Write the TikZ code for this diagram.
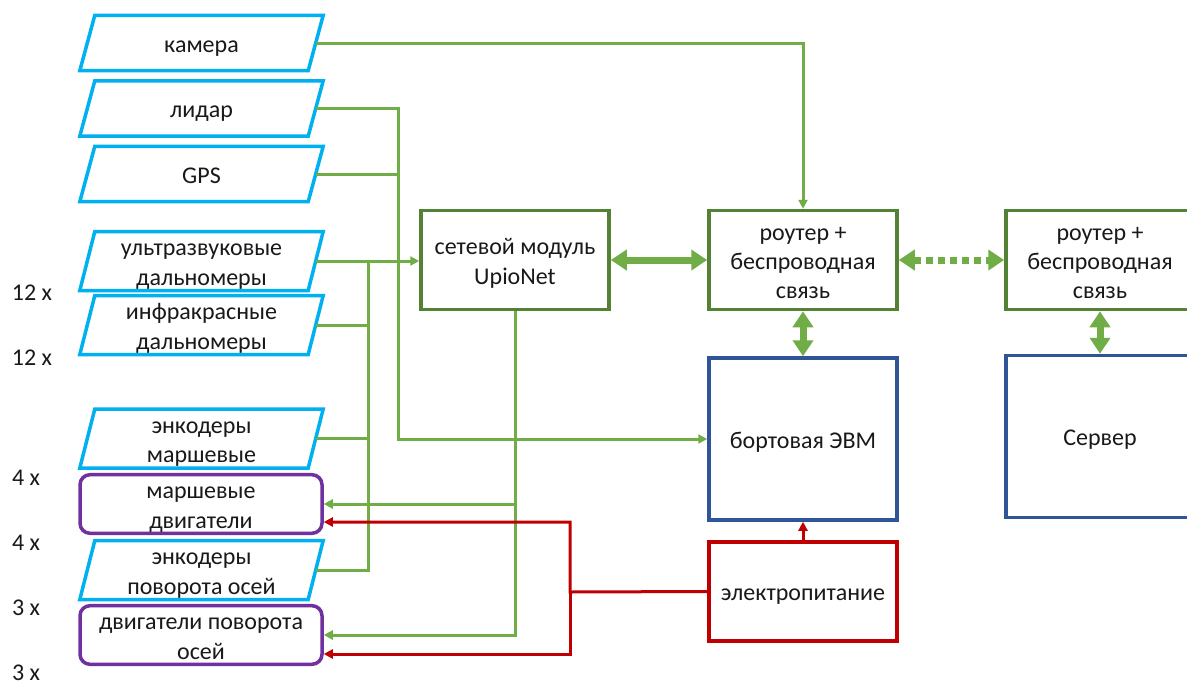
\documentclass[tikz,border=0pt]{standalone}
\usepackage{fontspec}
\setmainfont{Carlito}
\usetikzlibrary{arrows.meta,calc}
\definecolor{lgreen}{HTML}{70AD47}
\definecolor{dgreen}{HTML}{548235}
\definecolor{cyanb}{HTML}{00B0F0}
\definecolor{purp}{HTML}{7030A0}
\definecolor{dblue}{HTML}{2F5597}
\definecolor{dred}{HTML}{C00000}
\newcommand\mytx[1]{\raisebox{-3.5pt}[\height][\depth]{\begin{tabular}{@{}c@{}}#1\end{tabular}}}
\begin{document}
\begin{tikzpicture}[x=1pt,y=-1pt,
  txt/.style={font=\fontsize{24}{29.3}\selectfont, align=center, text=black!90},
  inbox/.style={txt, minimum width=228pt, minimum height=55pt, inner sep=0pt},
  pg/.style={draw=cyanb, line width=3.5pt, line join=miter},
  mot/.style={txt, draw=purp, line width=3.5pt, rounded corners=10pt, minimum width=242pt, minimum height=55pt, inner sep=0pt},
  gbox/.style={txt, draw=dgreen, line width=3.5pt, minimum width=188pt, minimum height=99pt, inner sep=0pt},
  bbox/.style={txt, draw=dblue, line width=3.5pt, minimum width=188pt, minimum height=162pt, inner sep=0pt},
  rbox/.style={txt, draw=dred, line width=3.5pt, minimum width=188pt, minimum height=99pt, inner sep=0pt},
  glp/.style={draw=lgreen, line width=3pt},
  gl/.style={glp, -{Triangle[length=9pt,width=9pt]}},
  rl/.style={draw=dred, line width=3pt, -{Triangle[length=9pt,width=9pt]}},
  thickarr/.style={draw=lgreen, line width=7pt, {Triangle[length=16pt,width=20pt]}-{Triangle[length=16pt,width=20pt]}},
  cnt/.style={txt}
]
\useasboundingbox[fill=white] (0,0) rectangle (1187,681);

% left column
\node[inbox] (cam) at (201.5,43) {\mytx{камера}};
\node[inbox] (lid) at (201.5,108.5) {\mytx{лидар}};
\node[inbox] (gps) at (201.5,174) {\mytx{GPS}};
\node[inbox] (uls) at (201.5,261) {\mytx{ультразвуковые\\дальномеры}};
\node[inbox] (ir) at (201.5,325) {\mytx{инфракрасные\\дальномеры}};
\node[inbox] (encm) at (201.5,438.5) {\mytx{энкодеры\\маршевые}};
\node[mot] (motm) at (201,504) {\mytx{маршевые\\двигатели}};
\node[inbox] (encr) at (201.5,570) {\mytx{энкодеры\\поворота осей}};
\node[mot] (motr) at (201,635) {\mytx{двигатели поворота\\осей}};
\foreach \n in {cam,lid,gps,uls,ir,encm,encr}
  \draw[pg] ([xshift=-7.5pt]\n.south west) -- ([xshift=7.5pt]\n.north west) -- ([xshift=7.5pt]\n.north east) -- ([xshift=-7.5pt]\n.south east) -- cycle;

% counts
\node[cnt] (c1) at (32,293) {12 x};
\node[cnt] (c2) at (32,358) {12 x};
\node[cnt] (c3) at (26,478) {4 x};
\node[cnt] (c4) at (26,543) {4 x};
\node[cnt] (c5) at (26,608) {3 x};
\node[cnt] (c6) at (26,673) {3 x};

% right boxes
\node[gbox] (net) at (515,260) {\mytx{сетевой модуль\\UpioNet}};
\node[gbox] (rt1) at (803,260) {\mytx{роутер +\\беспроводная\\связь}};
\node[gbox] (rt2) at (1100,260) {\mytx{роутер +\\беспроводная\\связь}};
\node[bbox] (pc) at (803,439) {\mytx{бортовая ЭВМ}};
\node[bbox] (srv) at (1100,436.5) {\mytx{Сервер}};
\node[rbox] (pwr) at (803,591.5) {\mytx{электропитание}};

% green connectors
\draw[gl] (cam.east) -| (rt1.north);
\coordinate (lb) at (398,439);
\draw[gl] (lid.east) -| (lb) -- (pc.west);
\draw[glp] (gps.east) -- (gps.east -| lb);
\draw[gl] (uls.east) -- (uls.east -| net.west);
\coordinate (bus) at (368,261);
\draw[glp] (bus) |- (encr.east);
\draw[glp] (ir.east) -- (ir.east -| bus);
\draw[glp] (encm.east) -- (encm.east -| bus);
\draw[gl] (net.south) |- (motm.east);
\draw[gl] (net.south) |- (motr.east);

% red connectors
\coordinate (rj) at (570,592);
\draw[rl] (pwr.west) -- (rj) |- ([yshift=-18pt]motm.east);
\draw[rl] (rj) |- ([yshift=-19pt]motr.east);
\draw[rl] (pwr.north) -- (pc.south);

% thick links
\draw[thickarr] (net.east) -- (rt1.west);
\draw[thickarr, dash pattern=on 7pt off 5pt] (rt1.east) -- (rt2.west);
\draw[thickarr] (rt1.south) -- (pc.north);
\draw[thickarr] (rt2.south) -- (srv.north);
\end{tikzpicture}
\end{document}
